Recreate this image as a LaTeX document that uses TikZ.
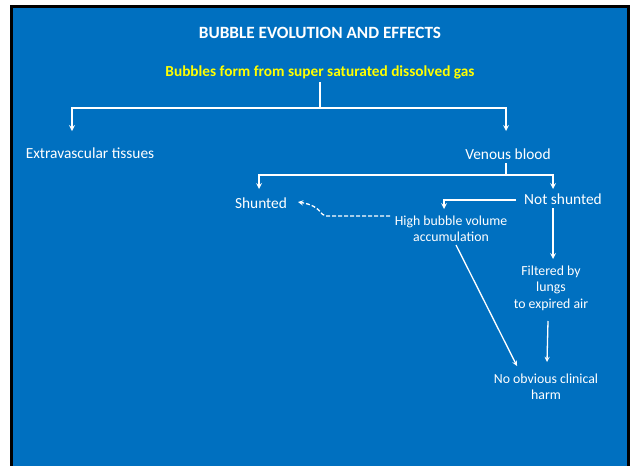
\documentclass[tikz,border=0pt]{standalone}
\usepackage{fontspec}
\setmainfont{Carlito}
\definecolor{slideblue}{HTML}{0070C0}
\definecolor{headyellow}{HTML}{FFFF00}
\begin{document}
\begin{tikzpicture}[x=1pt,y=-1pt,
    every node/.style={text=white,align=center,inner sep=1pt},
    heading/.style={font=\bfseries\fontsize{17.2}{19}\selectfont},
    source/.style={text=headyellow,font=\bfseries\fontsize{15.3}{17}\selectfont},
    bigtext/.style={font=\fontsize{15.4}{17}\selectfont},
    smalltext/.style={font=\fontsize{13.8}{16.5}\selectfont},
    link/.style={draw=white,line width=1.6pt,->,>=stealth},
    thinlink/.style={draw=white,line width=1.3pt,->,>=stealth}]
  \useasboundingbox (0,0) rectangle (630,466);
  \fill[white] (0,0) rectangle (630,466);
  \draw[line width=3pt,fill=slideblue] (11.5,6.5) rectangle (628.5,480);

  % texts
  \node[heading] (title) at (320,33) {BUBBLE EVOLUTION AND EFFECTS};
  \node[source] (bubbles) at (320,72) {Bubbles form from super saturated dissolved gas};
  \node[bigtext] (extra) at (90,153) {Extravascular tissues};
  \node[bigtext] (venous) at (508,154) {Venous blood};
  \node[bigtext] (shunted) at (261,203) {Shunted};
  \node[bigtext] (notshunted) at (563,199) {Not shunted};
  \node[smalltext] (highvol) at (451,229) {High bubble volume\\accumulation};
  \node[smalltext] (filtered) at (551,288) {Filtered by\\lungs\\to expired air};
  \node[smalltext] (noharm) at (546,387) {No obvious clinical\\harm};

  % branch points and arrow ends
  \coordinate (split) at (320,108);
  \coordinate (extratop) at (72,131);
  \coordinate (venoustop) at (506,131);
  \coordinate (vsplit) at (506,175);
  \coordinate (shuntedtop) at (259,189);
  \coordinate (notshuntedtop) at (553,189);
  \coordinate (highvoltop) at (444,209);

  % connectors
  \draw[white,line width=1.6pt] (320,82) -- (split);
  \draw[link] (split) -| (extratop);
  \draw[link] (split) -| (venoustop);
  \draw[white,line width=1.6pt] (506,163) -- (vsplit);
  \draw[link] (vsplit) -| (shuntedtop);
  \draw[link] (vsplit) -| (notshuntedtop);
  \draw[link] (516,200) -| (highvoltop);
  \draw[link] (553,208) -- (553,259);
  \draw[thinlink,dash pattern=on 4pt off 2pt]
    (390,216) -- (326,216) .. controls (320,216) and (322,206) .. (298,202);
  \draw[thinlink] (456,245) -- (517,366);
  \draw[thinlink] (548,321) -- (547,362);
\end{tikzpicture}
\end{document}
